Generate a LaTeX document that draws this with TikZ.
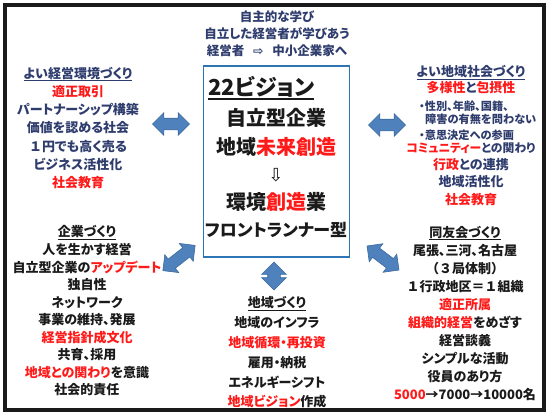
\documentclass[tikz,border=0pt]{standalone}
\usepackage{fontspec}
\setmainfont{Noto Sans CJK JP}[RawFeature=+palt]
\newfontfamily\dv{DejaVu Sans}
\usetikzlibrary{shapes.arrows}
\definecolor{navy}{HTML}{2F3D6E}
\definecolor{redx}{HTML}{FF1A1A}
\definecolor{ink}{HTML}{1A1A1A}
\definecolor{arrowfill}{HTML}{4F81BD}
\definecolor{arrowline}{HTML}{3B6A9E}
\definecolor{boxblue}{HTML}{2E75B6}
\newcommand{\R}[1]{\textcolor{redx}{#1}}
\newcommand{\fw}[1]{{\addfontfeatures{RawFeature=-palt}#1}}
\newcommand{\ulx}[3]{\setbox0\hbox{#3}\leavevmode\rlap{\rule[-#1]{\wd0}{#2}}\box0}
\tikzset{
  txt/.style={align=center, inner sep=0pt, font=\bfseries\fontsize{13}{#1}\selectfont},
  txt/.default=18,
  dbl/.style={double arrow, draw=arrowline, fill=arrowfill, line width=0.6pt,
    inner sep=5.5pt, double arrow head extend=5.5pt, minimum width=22pt, minimum height=37pt},
}
\begin{document}
\begin{tikzpicture}[x=1pt,y=-1pt]
\useasboundingbox (0,0) rectangle (551,416);
\fill[white] (0,0) rectangle (551,416);
\draw[line width=4pt, draw=ink] (5,5) rectangle (544,410);

% top text
\node[txt=17, text=navy, font=\bfseries\fontsize{12.5}{17}\selectfont] (top) at (277,34)
  {自主的な学び\\自立した経営者が学びあう\\経営者\hspace{0.7em}{\dv ⇨}\hspace{0.7em}中小企業家へ};

% center box
\node[draw=boxblue, line width=1.1pt, minimum width=146pt, minimum height=191pt, inner sep=0pt] (vis) at (276.5,161.5) {};
\node[inner sep=0pt, anchor=west, text=ink, font=\bfseries\fontsize{22}{24}\selectfont] (v0) at (208,88) {\ulx{4pt}{1.6pt}{22ビジョン}};
\node[inner sep=0pt, text=ink, font=\bfseries\fontsize{20}{22}\selectfont] (v1) at (276,118) {自立型企業};
\node[inner sep=0pt, text=ink, font=\bfseries\fontsize{20}{22}\selectfont] (v2) at (276,147) {地域\R{未来創造}};
\node[inner sep=0pt, text=ink, font=\dv\fontsize{18}{20}\selectfont] (v3) at (276,175) {⇩};
\node[inner sep=0pt, text=ink, font=\bfseries\fontsize{20}{22}\selectfont] (v4) at (276,202) {環境\R{創造}業};
\node[inner sep=0pt, text=ink, font=\bfseries\fontsize{17}{20}\selectfont] (v5) at (276,230) {フロントランナー型};

% left top
\node[txt=18.3, text=navy] (lt) at (78,128)
  {\ulx{3pt}{1pt}{よい経営環境づくり}\\\R{適正取引}\\パートナーシップ構築\\価値を認める社会\\\fw{１}円でも高く売る\\ビジネス活性化\\\R{社会教育}};

% right top
\node[txt=16, text=navy] (rt) at (471,80)
  {\ulx{3pt}{1pt}{よい地域社会づくり}\\\R{多様性}と\R{包摂性}};
\node[inner sep=0pt, anchor=west, text=navy, font=\bfseries\fontsize{11.2}{13}\selectfont] (rb1) at (419,106) {・性別、年齢、国籍、};
\node[inner sep=0pt, anchor=west, text=navy, font=\bfseries\fontsize{11.2}{13}\selectfont] (rb2) at (425,119) {障害の有無を問わない};
\node[inner sep=0pt, anchor=west, text=navy, font=\bfseries\fontsize{11.2}{13}\selectfont] (rb3) at (419,135) {・意思決定への参画};
\node[txt=17.3, text=navy] (rc) at (471,174)
  {{\fontsize{11.8}{13}\selectfont\R{コミュニティー}との関わり}\\\R{行政}との連携\\地域活性化\\\R{社会教育}};

% left bottom
\node[txt=17.56, text=ink] (lb) at (87,311)
  {\ulx{3pt}{1pt}{企業づくり}\\人を生かす経営\\自立型企業の\R{アップデート}\\独自性\\ネットワーク\\事業の維持、発展\\\R{経営指針成文化}\\共育、採用\\\R{地域との関わり}を意識\\社会的責任};

% bottom center
\node[txt=19.8, text=ink] (bc) at (277,352.5)
  {\ulx{3pt}{1pt}{地域づくり}\\地域のインフラ\\\R{地域循環・再投資}\\雇用・納税\\エネルギーシフト\\\R{地域ビジョン}作成};

% right bottom
\node[txt=18.1, text=ink] (rbk) at (465,313.5)
  {\ulx{3pt}{1pt}{同友会づくり}\\尾張、三河、名古屋\\\fw{（３局体制）}\\\fw{１}行政地区\fw{＝１}組織\\\R{適正所属}\\\R{組織的経営}をめざす\\経営談義\\シンプルな活動\\役員のあり方\\\R{5000}→7000→10000名};

% arrows
\node[dbl] (a1) at (171,124) {};
\node[dbl] (a2) at (387,125) {};
\node[dbl, rotate=38, minimum height=41pt, minimum width=22pt, inner sep=5.5pt] (a3) at (179,258) {};
\node[dbl, rotate=-37, minimum height=40pt, minimum width=22pt, inner sep=5.5pt] (a4) at (383,258) {};
\node[dbl, rotate=90, minimum height=28pt, minimum width=24pt, inner sep=6pt, double arrow head extend=6pt] (a5) at (274,276) {};
\end{tikzpicture}
\end{document}
